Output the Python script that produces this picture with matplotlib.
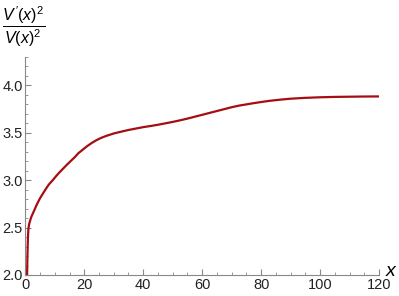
import matplotlib
matplotlib.use("Agg")
import matplotlib.pyplot as plt
from matplotlib.ticker import MultipleLocator, FormatStrFormatter

x_vals = [0.6, 0.65, 0.7, 0.75, 0.8, 0.9, 1.0, 1.1, 1.3, 1.5, 1.75, 2, 2.5, 3, 3.5, 4, 5, 6, 7,
          8, 9.3, 10.5, 11.5, 12.75, 14, 15, 16, 17, 18, 19, 20, 21, 22.5, 24, 25, 26, 27.5,
          29, 30, 32.5, 35, 37.5, 40, 42.5, 45, 47.5, 50, 52.5, 55, 57.5, 60, 62.5, 65, 67.5,
          70, 72.5, 75, 77.5, 80, 82.5, 85, 87.5, 90, 95, 100, 105, 110, 115, 120]
y_vals = [2.0, 2.08, 2.16, 2.23, 2.30, 2.40, 2.46, 2.50, 2.535, 2.56, 2.585, 2.61, 2.645, 2.68,
          2.715, 2.75, 2.81, 2.86, 2.91, 2.955, 3.00, 3.045, 3.08, 3.12, 3.16, 3.19, 3.22,
          3.25, 3.285, 3.31, 3.335, 3.36, 3.392, 3.42, 3.436, 3.45, 3.468, 3.483, 3.493, 3.512,
          3.53, 3.545, 3.56, 3.572, 3.585, 3.60, 3.615, 3.632, 3.65, 3.67, 3.69, 3.71, 3.73,
          3.75, 3.77, 3.787, 3.80, 3.813, 3.825, 3.836, 3.845, 3.853, 3.86, 3.869, 3.875,
          3.879, 3.881, 3.883, 3.884]

plt.rcParams['font.family'] = ['Liberation Sans', 'DejaVu Sans']
plt.rcParams['mathtext.fontset'] = 'custom'
plt.rcParams['mathtext.it'] = 'Liberation Sans:italic'
plt.rcParams['mathtext.rm'] = 'Liberation Sans'

fig = plt.figure(figsize=(3.99, 2.96), dpi=100)
ax = fig.add_axes([25.3/399, 21/296, 353.7/399, 218/296])
ax.plot(x_vals, y_vals, color='#a50d12', lw=1.6)
ax.set_xlim(0, 120)
ax.set_ylim(2.0, 4.3)

for s in ['top', 'right']:
    ax.spines[s].set_visible(False)
axcol = '#888888'
for s in ['left', 'bottom']:
    ax.spines[s].set_color(axcol)
    ax.spines[s].set_linewidth(0.8)

ax.xaxis.set_major_locator(MultipleLocator(20))
ax.xaxis.set_minor_locator(MultipleLocator(5))
ax.yaxis.set_major_locator(MultipleLocator(0.5))
ax.yaxis.set_minor_locator(MultipleLocator(0.1))
ax.tick_params(which='both', direction='in', color=axcol, labelsize=10.5, labelcolor='#222222')
ax.tick_params(which='major', length=4, width=0.8)
ax.tick_params(axis='x', which='major', pad=2.2)
ax.tick_params(axis='y', which='major', pad=2.0)
ax.tick_params(which='minor', length=2.2, width=0.6)
ax.yaxis.set_major_formatter(FormatStrFormatter('%.1f'))

fig.text(392/399, 1 - 271/296, r'$x$', fontsize=14, ha='center', va='center')
fig.text(24/399, 1 - 27/296, r"$\dfrac{V\,'(x)^2}{V(x)^2}$", fontsize=11.5, ha='center', va='center')

fig.savefig('out.png', dpi=100)
